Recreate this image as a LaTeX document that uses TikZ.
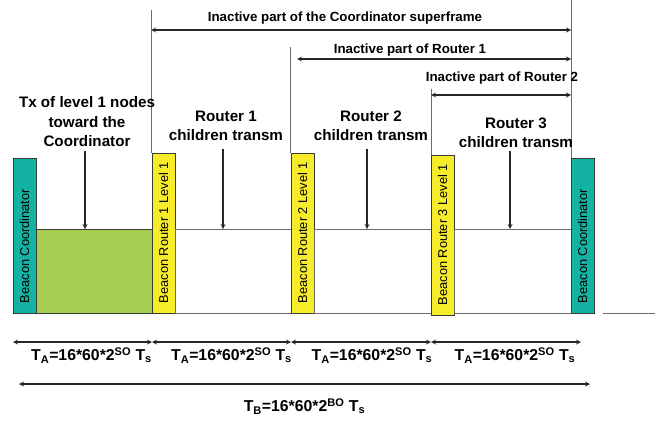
\documentclass[tikz,border=0pt]{standalone}
\usepackage{fontspec}
\setmainfont{Liberation Sans}
\usetikzlibrary{positioning,calc}
\definecolor{beaconteal}{HTML}{14B2A2}
\definecolor{beaconyellow}{HTML}{F6EC2A}
\definecolor{txgreen}{HTML}{A4CD52}
\definecolor{edgegray}{HTML}{3A3A3A}
\definecolor{linegray}{HTML}{6A6A6A}
\tikzset{
  beaconc/.style={rectangle, draw=edgegray, fill=beaconteal, line width=0.8pt,
                  minimum width=23pt, minimum height=155pt, inner sep=0pt,
                  outer sep=0pt, font=\fontsize{12.8}{14}\selectfont},
  beacony/.style={rectangle, draw=edgegray, fill=beaconyellow, line width=0.8pt,
                  minimum width=23pt, minimum height=160pt, inner sep=0pt,
                  outer sep=0pt, font=\fontsize{12.8}{14}\selectfont},
  slotg/.style={rectangle, draw=edgegray, fill=txgreen, line width=0.8pt,
                minimum width=116pt, minimum height=84pt, inner sep=0pt,
                outer sep=0pt},
  slotw/.style={rectangle, draw=linegray, line width=0.8pt,
                minimum height=84pt, inner sep=0pt, outer sep=0pt},
  lbl/.style={font=\bfseries\fontsize{15.2}{19.5}\selectfont, align=center,
              inner sep=0pt, text=black},
  ilbl/.style={font=\bfseries\fontsize{13.3}{16}\selectfont, inner sep=0pt,
               text=black},
  tlbl/.style={font=\bfseries\fontsize{15.8}{18}\selectfont, inner sep=0pt,
               text=black},
  vline/.style={draw=linegray, line width=0.8pt},
  tarr/.style={<->, >=stealth, line width=1.2pt, color=black!85},
  parr/.style={->, >=stealth, line width=1.2pt, color=black!85},
}

\begin{document}
\begin{tikzpicture}[x=1pt, y=-1pt]
  \useasboundingbox (0,0) rectangle (662,423);

  % time slots
  \node[beaconc, anchor=south west] (bc1) at (13,313)
    {\rotatebox{90}{\makebox[135pt][l]{Beacon Coordinator}}};
  \node[slotg, anchor=south west] (tx) at (bc1.south east) {};
  \node[beacony, anchor=south west] (br1) at (tx.south east)
    {\rotatebox{90}{\makebox[140pt][l]{Beacon Router 1 Level 1}}};
  \node[slotw, minimum width=116pt, anchor=south west] (ch1) at (br1.south east) {};
  \node[beacony, anchor=south west] (br2) at (ch1.south east)
    {\rotatebox{90}{\makebox[140pt][l]{Beacon Router 2 Level 1}}};
  \node[slotw, minimum width=117pt, anchor=south west] (ch2) at (br2.south east) {};
  \node[beacony, anchor=south west] (br3) at ([yshift=-2pt]ch2.south east)
    {\rotatebox{90}{\makebox[140pt][l]{Beacon Router 3 Level 1}}};
  \node[slotw, minimum width=117pt, anchor=south west] (ch3) at ([yshift=2pt]br3.south east) {};
  \node[beaconc, anchor=south west] (bc2) at (ch3.south east)
    {\rotatebox{90}{\makebox[135pt][l]{Beacon Coordinator}}};
  \coordinate (e0) at (603,313);
  \coordinate (e1) at (655,313);
  \draw[vline] (e0) -- (e1);

  % inactive parts
  \coordinate (top0) at (151,10);
  \coordinate (top1) at (290,47);
  \coordinate (top2) at (431,89);
  \coordinate (top3) at (571,0);
  \draw[vline] (top0) -- (top0 |- br1.north);
  \draw[vline] (top1) -- (top1 |- br2.north);
  \draw[vline] (top2) -- (top2 |- br3.north);
  \draw[vline] (top3) -- (top3 |- bc2.north);

  \coordinate (in0l) at (151,30);
  \coordinate (in0r) at (571,30);
  \coordinate (in1l) at (297,59);
  \coordinate (in1r) at (571,59);
  \coordinate (in2l) at (431,95);
  \coordinate (in2r) at (571,95);
  \node[ilbl] (in0) at (345,18.5) {Inactive part of the Coordinator superframe};
  \node[ilbl] (in1) at (410,50) {Inactive part of Router 1};
  \node[ilbl] (in2) at (502,78) {Inactive part of Router 2};
  \draw[tarr] (in0l) -- (in0r);
  \draw[tarr] (in1l) -- (in1r);
  \draw[tarr] (in2l) -- (in2r);

  % slot contents
  \node[lbl] (txl) at (87,122) {Tx of level 1 nodes\\toward the\\Coordinator};
  \node[lbl] (r1l) at (226,126) {Router 1\\children transm};
  \node[lbl] (r2l) at (371,126) {Router 2\\children transm};
  \node[lbl] (r3l) at (516,133) {Router 3\\children transm};
  \draw[parr] ([xshift=-2pt,yshift=-4pt]txl.south) -- ([xshift=-2pt]txl.south |- tx.north);
  \draw[parr] ([xshift=-3pt,yshift=-8pt]r1l.south) -- ([xshift=-3pt]r1l.south |- ch1.north);
  \draw[parr] ([xshift=-4pt,yshift=-8pt]r2l.south) -- ([xshift=-4pt]r2l.south |- ch2.north);
  \draw[parr] ([xshift=-6pt,yshift=-3pt]r3l.south) -- ([xshift=-6pt]r3l.south |- ch3.north);

  % durations
  \coordinate (b0) at (13,342);
  \coordinate (b1) at (152,342);
  \coordinate (b2) at (291,342);
  \coordinate (b3) at (431,342);
  \coordinate (b4) at (581,342);
  \coordinate (b5) at (19,384);
  \coordinate (b6) at (590,384);
  \draw[tarr] (b0) -- node[tlbl, below=5pt, xshift=9pt] (ta1)
    {T\textsubscript{A}=16*60*2\textsuperscript{SO}~T\textsubscript{s}} (b1);
  \draw[tarr] (b1) -- node[tlbl, below=5pt, xshift=10pt] (ta2)
    {T\textsubscript{A}=16*60*2\textsuperscript{SO}~T\textsubscript{s}} (b2);
  \draw[tarr] (b2) -- node[tlbl, below=5pt, xshift=11pt] (ta3)
    {T\textsubscript{A}=16*60*2\textsuperscript{SO}~T\textsubscript{s}} (b3);
  \draw[tarr] (b3) -- node[tlbl, below=5pt, xshift=9pt] (ta4)
    {T\textsubscript{A}=16*60*2\textsuperscript{SO}~T\textsubscript{s}} (b4);
  \draw[tarr] (b5) -- node[tlbl, below=14pt] (tb)
    {T\textsubscript{B}=16*60*2\textsuperscript{BO}~T\textsubscript{s}} (b6);
\end{tikzpicture}
\end{document}
